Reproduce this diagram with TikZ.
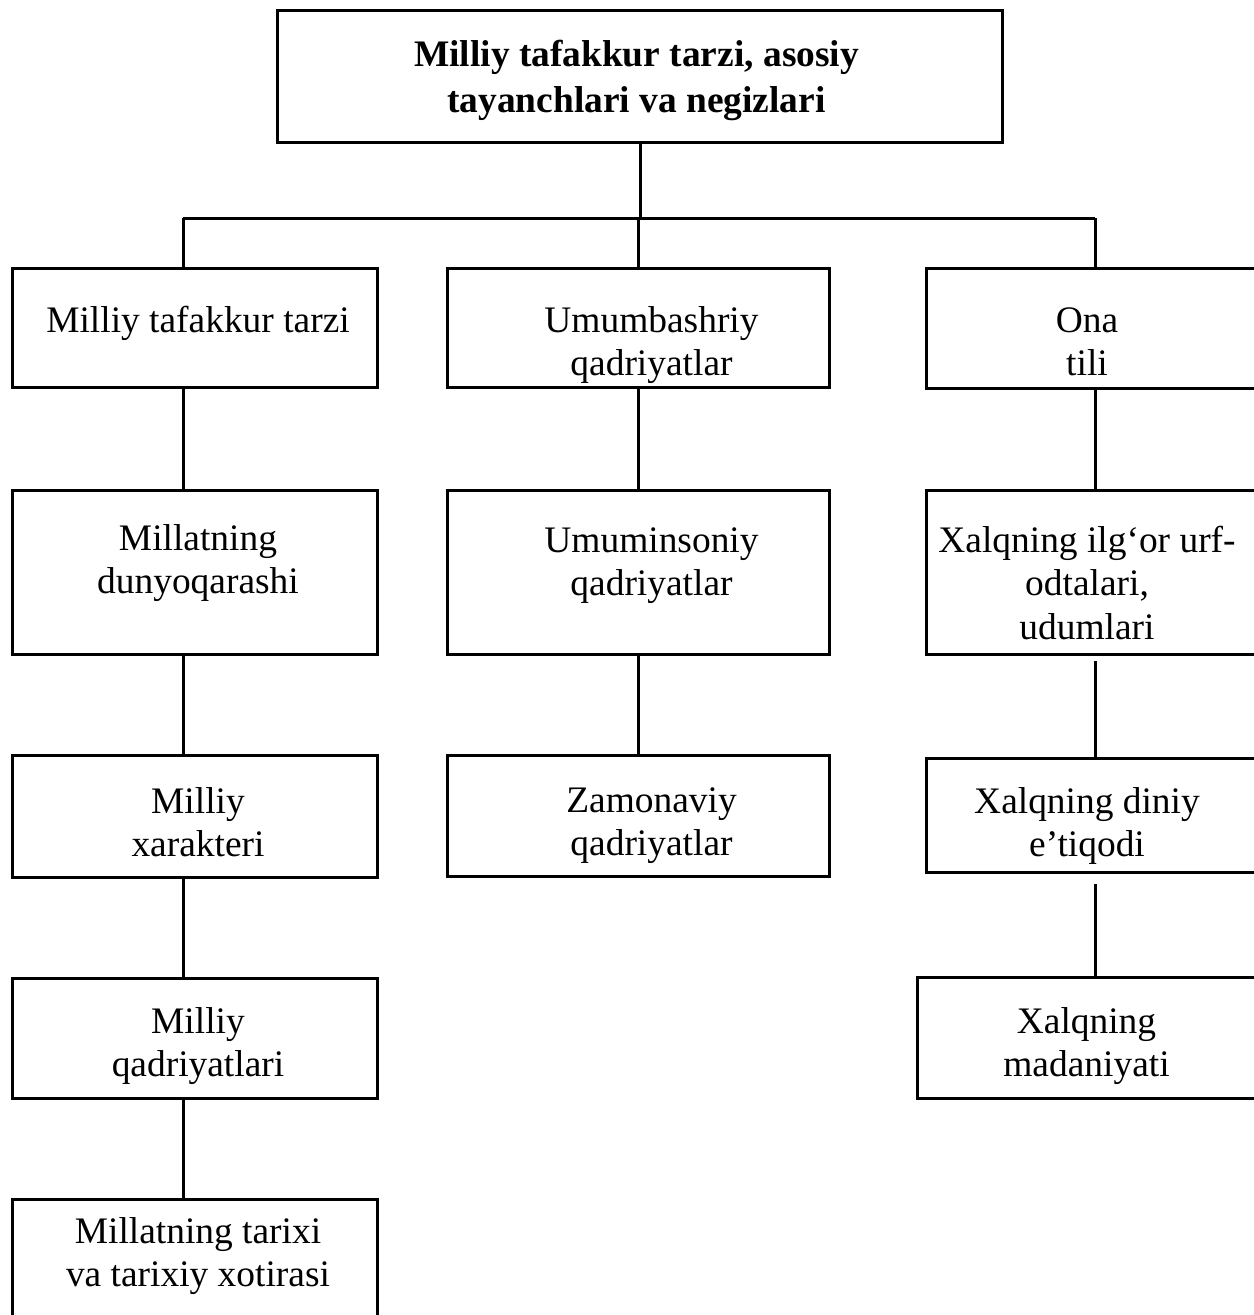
\documentclass[tikz,border=0pt]{standalone}
\usepackage{fontspec}
\setmainfont{Liberation Serif}
\usetikzlibrary{calc}
% #1 horizontal shift (twice the wanted offset), #2 width, #3 height, #4 top gap, #5 text
\newcommand{\boxtxt}[5]{\hspace*{#1}\parbox[c][#3][t]{#2}{\centering\vspace*{#4}\strut #5}}
\begin{document}
\begin{tikzpicture}[x=0.02cm,y=-0.02cm,
  box/.style={draw, line width=0.06cm, rectangle, inner sep=0pt,
    font=\fontsize{21.3pt}{25pt}\selectfont},
  conn/.style={line width=0.06cm}]
\useasboundingbox (0,0) rectangle (1254,1315);
\clip (0,0) rectangle (1254,1315);
\fill[white] (0,0) rectangle (1254,1315);

% top
\node[box, minimum width=14.52cm, minimum height=2.66cm, font=\fontsize{21.3pt}{26pt}\selectfont\bfseries]
  (top) at (640,76.5) {\boxtxt{-0.14cm}{14cm}{2.66cm}{0.5cm}{Milliy tafakkur tarzi, asosiy\\tayanchlari va negizlari}};

% left column
\node[box, minimum width=7.32cm, minimum height=2.4cm]  (L1) at (195,328)
  {\boxtxt{0.12cm}{6.4cm}{2.4cm}{0.666cm}{Milliy tafakkur tarzi}};
\node[box, minimum width=7.32cm, minimum height=3.3cm]  (L2) at (195,572.5)
  {\boxtxt{0.12cm}{6.4cm}{3.3cm}{0.586cm}{Millatning\\dunyoqarashi}};
\node[box, minimum width=7.32cm, minimum height=2.46cm] (L3) at (195,816.5)
  {\boxtxt{0.12cm}{6.4cm}{2.46cm}{0.546cm}{Milliy\\xarakteri}};
\node[box, minimum width=7.32cm, minimum height=2.4cm]  (L4) at (195,1038)
  {\boxtxt{0.12cm}{6.4cm}{2.4cm}{0.486cm}{Milliy\\qadriyatlari}};
\node[box, minimum width=7.32cm, minimum height=2.44cm] (L5) at (195,1260)
  {\boxtxt{0.12cm}{6.4cm}{2.44cm}{0.266cm}{Millatning tarixi\\va tarixiy xotirasi}};

% middle column
\node[box, minimum width=7.66cm, minimum height=2.4cm]  (M1) at (638.5,328)
  {\boxtxt{0.52cm}{6.4cm}{2.4cm}{0.666cm}{Umumbashriy\\qadriyatlar}};
\node[box, minimum width=7.66cm, minimum height=3.3cm]  (M2) at (638.5,572.5)
  {\boxtxt{0.52cm}{6.4cm}{3.3cm}{0.626cm}{Umuminsoniy\\qadriyatlar}};
\node[box, minimum width=7.66cm, minimum height=2.44cm] (M3) at (638.5,816)
  {\boxtxt{0.52cm}{6.4cm}{2.44cm}{0.526cm}{Zamonaviy\\qadriyatlar}};

% right column
\node[box, minimum width=6.6cm, minimum height=2.42cm]  (R1) at (1091,328.5)
  {\boxtxt{-0.16cm}{6.3cm}{2.42cm}{0.666cm}{Ona\\tili}};
\node[box, minimum width=6.6cm, minimum height=3.3cm]   (R2) at (1091,572.5)
  {\boxtxt{-0.16cm}{6.3cm}{3.3cm}{0.626cm}{Xalqning ilg‘or urf-\\odtalari,\\udumlari}};
\node[box, minimum width=6.6cm, minimum height=2.3cm]   (R3) at (1091,815.5)
  {\boxtxt{-0.16cm}{6.3cm}{2.3cm}{0.486cm}{Xalqning diniy\\e’tiqodi}};
\node[box, minimum width=6.78cm, minimum height=2.42cm] (R4) at (1086.5,1037.5)
  {\boxtxt{0cm}{6.3cm}{2.42cm}{0.506cm}{Xalqning\\madaniyati}};

% bus
\coordinate (bL) at (183,218);
\coordinate (bM) at (638,218);
\coordinate (bR) at (1095,218);

\draw[conn] (top.south) -- (top.south |- bL);
\draw[conn] (bL) -- (bR);
\draw[conn] (bL) -- (bL |- L1.north);
\draw[conn] (bM) -- (bM |- M1.north);
\draw[conn] (bR) -- (bR |- R1.north);

\draw[conn] (L1.south -| bL) -- (L2.north -| bL);
\draw[conn] (L2.south -| bL) -- (L3.north -| bL);
\draw[conn] (L3.south -| bL) -- (L4.north -| bL);
\draw[conn] (L4.south -| bL) -- (L5.north -| bL);

\draw[conn] (M1.south -| bM) -- (M2.north -| bM);
\draw[conn] (M2.south -| bM) -- (M3.north -| bM);

\draw[conn] (R1.south -| bR) -- (R2.north -| bR);
\draw[conn] ($(R2.south -| bR)+(0,5)$) -- (R3.north -| bR);
\draw[conn] ($(R3.south -| bR)+(0,10)$) -- (R4.north -| bR);
\end{tikzpicture}
\end{document}
